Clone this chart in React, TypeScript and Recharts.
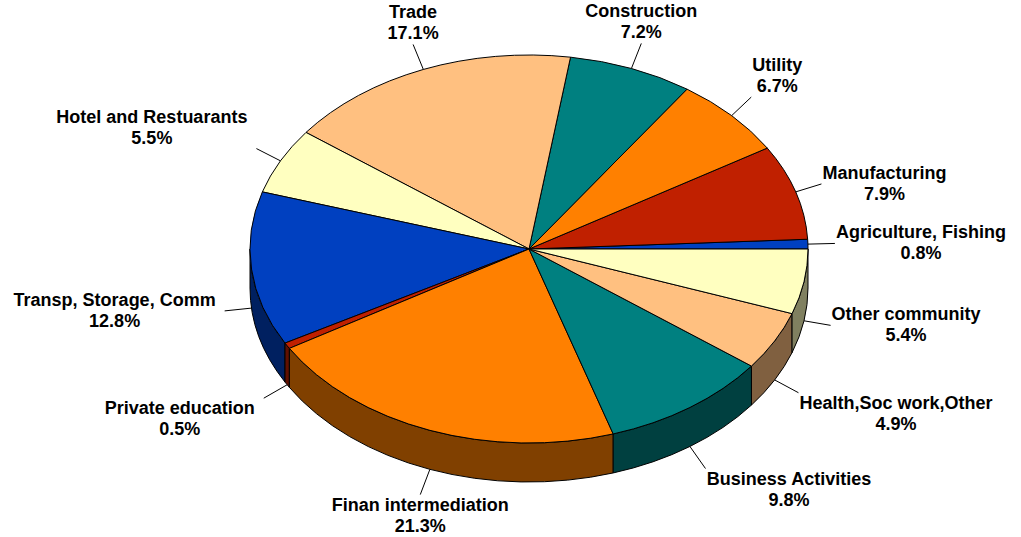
import React from 'react';
import { PieChart, Pie } from 'recharts';

const sectors = [
  'Agriculture, Fishing',
  'Manufacturing',
  'Utility',
  'Construction',
  'Trade',
  'Hotel and Restuarants',
  'Transp, Storage, Comm',
  'Private education',
  'Finan intermediation',
  'Business Activities',
  'Health,Soc work,Other',
  'Other community',
];
const shares = [0.8, 7.9, 6.7, 7.2, 17.1, 5.5, 12.8, 0.5, 21.3, 9.8, 4.9, 5.4];
const colors = [
  '#0040C0', '#C02000', '#FF8000', '#008080', '#FFC080', '#FFFFC0',
  '#0040C0', '#C02000', '#FF8000', '#008080', '#FFC080', '#FFFFC0',
];

const data = sectors.map((name, i) => ({ name, value: shares[i], fill: colors[i] }));

// 3d look: ellipse squash and wall thickness
const TILT = 194 / 279;
const DEPTH = 39;
const LEAD = 27;
const FONT = "bold 18px 'Liberation Sans', Arial, sans-serif";

function darken(hex: string) {
  const n = parseInt(hex.slice(1), 16);
  const r = Math.round(((n >> 16) & 255) / 2);
  const g = Math.round(((n >> 8) & 255) / 2);
  const b = Math.round((n & 255) / 2);
  return `rgb(${r},${g},${b})`;
}

let ctx: CanvasRenderingContext2D | null = null;
function textWidth(s: string) {
  if (!ctx) ctx = document.createElement('canvas').getContext('2d');
  if (!ctx) return s.length * 9;
  ctx.font = FONT;
  return ctx.measureText(s).width;
}

const pt = (cx: number, cy: number, rx: number, ry: number, deg: number) => {
  const r = (deg * Math.PI) / 180;
  return [cx + rx * Math.cos(r), cy - ry * Math.sin(r)];
};

const Slice = (props: any) => {
  const { cx, cy, outerRadius, startAngle, endAngle, fill } = props;
  const rx = outerRadius;
  const ry = outerRadius * TILT;
  const a1 = Math.min(startAngle, endAngle);
  const a2 = Math.max(startAngle, endAngle);
  const [x1, y1] = pt(cx, cy, rx, ry, a1);
  const [x2, y2] = pt(cx, cy, rx, ry, a2);
  const large = a2 - a1 > 180 ? 1 : 0;
  const top = `M${cx},${cy}L${x1},${y1}A${rx},${ry} 0 ${large} 0 ${x2},${y2}Z`;

  // front wall: the part of the arc between 180 and 360 degrees
  const s = Math.max(a1, 180);
  const e = Math.min(a2, 360);
  let wall = null;
  if (e > s) {
    const [sx, sy] = pt(cx, cy, rx, ry, s);
    const [ex, ey] = pt(cx, cy, rx, ry, e);
    const d = `M${sx},${sy}A${rx},${ry} 0 0 0 ${ex},${ey}L${ex},${ey + DEPTH}A${rx},${ry} 0 0 1 ${sx},${sy + DEPTH}Z`;
    wall = <path d={d} fill={darken(fill)} stroke="#000" strokeWidth={1} />;
  }
  return (
    <g>
      {wall}
      <path d={top} fill={fill} stroke="#000" strokeWidth={1} />
    </g>
  );
};

const renderLabel = (props: any) => {
  const { cx, cy, outerRadius, midAngle, percent, index } = props;
  const rx = outerRadius;
  const ry = outerRadius * TILT;
  const r = (midAngle * Math.PI) / 180;
  const c = Math.cos(r);
  const s = Math.sin(r);
  const px = cx + rx * c;
  const py = cy - ry * s + (s < 0 ? DEPTH : 0);
  const ex = px + LEAD * c;
  const ey = py - LEAD * s;
  const name = sectors[index];
  const w = textWidth(name);
  const fx = Math.abs(c) > 0.45 ? Math.sign(c) : 0;
  const fy = Math.abs(s) > 0.4 ? -Math.sign(s) : 0;
  const gap = c < 0 ? 9 : 1;
  const lx = ex + fx * (w / 2 + gap);
  const ly = ey + fy * 21;
  const txt = { textAnchor: 'middle' as const, fill: '#000', style: { font: FONT } };
  return (
    <g key={`lbl-${index}`}>
      <line x1={px} y1={py} x2={ex} y2={ey} stroke="#000" strokeWidth={1} />
      <text x={lx} y={ly - 5} {...txt}>{name}</text>
      <text x={lx} y={ly + 16} {...txt}>{(percent * 100).toFixed(1)}%</text>
    </g>
  );
};

export default function App() {
  return (
    <div style={{ position: 'absolute', left: 0, top: 0, background: '#fff' }}>
      <PieChart width={1021} height={537} margin={{ top: 0, right: 0, bottom: 0, left: 0 }}>
        <Pie
          data={data}
          dataKey="value"
          nameKey="name"
          cx={529}
          cy={249}
          outerRadius={279}
          startAngle={0}
          endAngle={360}
          stroke="#000"
          shape={Slice}
          label={renderLabel}
          labelLine={false}
          isAnimationActive={false}
        />
      </PieChart>
    </div>
  );
}
